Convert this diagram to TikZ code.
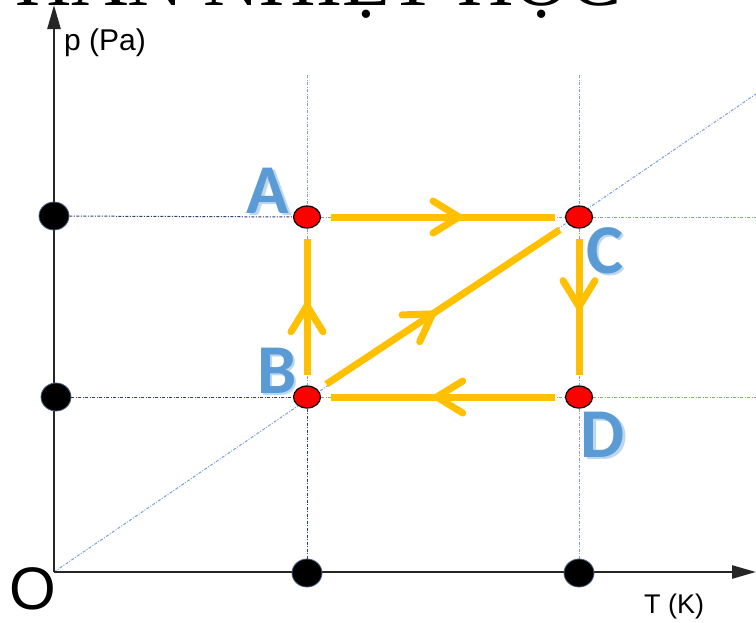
\documentclass[tikz,border=0pt]{standalone}
\usepackage{fontspec}
\setmainfont{Liberation Sans}
\newfontfamily\titlefont{Liberation Serif}
\newfontfamily\ptfont{Carlito}
\usetikzlibrary{arrows.meta,shapes.geometric,decorations.markings,backgrounds}
\definecolor{flowc}{HTML}{FFC000}
\definecolor{ptblue}{HTML}{5B9BD5}
\definecolor{ptshade}{HTML}{BDD7EE}
\definecolor{guide}{HTML}{7F9FD8}
\definecolor{guidedark}{HTML}{2F3F6F}
\newcommand{\ptlabel}[1]{\makebox[0pt][l]{\kern2.5pt\raisebox{-2.5pt}{\color{ptshade}#1}}#1}

\begin{document}
\begin{tikzpicture}[x=1pt,y=-1pt,
  pt/.style={ellipse, draw=black, line width=1.2pt, fill=red, minimum width=27pt, minimum height=22pt, inner sep=0pt},
  tick/.style={ellipse, draw=guide!60!black, line width=0.8pt, fill=black, minimum width=30pt, minimum height=28pt, inner sep=0pt},
  axis/.style={-{Triangle[length=24pt,width=13pt]}, line width=2.5pt, black!85},
  guideline/.style={guide, line width=1pt, dash pattern=on 3pt off 1.5pt on 1pt off 1.5pt},
  guidedk/.style={guideline, guidedark},
  flow/.style={flowc, line width=7pt, shorten <=10pt, shorten >=10pt, postaction={decorate},
    decoration={markings, mark=at position #1 with {\arrow[flowc, line width=7pt]{Straight Barb[length=26pt, width=32pt, round]}}}},
  lab/.style={font=\ptfont\bfseries\fontsize{70}{70}\selectfont, text=ptblue, inner sep=0pt, anchor=base},
  axlab/.style={inner sep=0pt, anchor=base west}]
\useasboundingbox (0,0) rectangle (756,622);

\node[font=\titlefont\fontsize{78}{78}\selectfont, anchor=base east, inner sep=0pt] (title) at (622,5) {PHẦN NHIỆT HỌC};

\coordinate (O) at (54,572);
\coordinate (ytop) at (54,5);
\coordinate (xend) at (756,572);
\coordinate (aT) at (307,75);
\coordinate (cT) at (579,75);
\coordinate (cR) at (756,217);
\coordinate (dR) at (756,397);
\coordinate (diagEnd) at (756,94);

\draw[axis] (O) -- (ytop);
\draw[axis] (O) -- (xend);

\node[tick] (p1) at (54,216) {};
\node[tick] (p2) at (56,397) {};
\node[tick] (t1) at (307,573) {};
\node[tick] (t2) at (579,573) {};

\node[pt] (A) at (307,217) {};
\node[pt] (C) at (579,217) {};
\node[pt] (B) at (307,397) {};
\node[pt] (D) at (579,397) {};

\begin{scope}[on background layer]
\draw[guideline] (O) -- (diagEnd);
\draw[guidedk] (p1) -- (A);
\draw[guidedk] (p2) -- (B);
\draw[guideline] (A) -- (C);
\draw[guideline] (B) -- (D);
\draw[guideline] (C) -- (cR);
\draw[guideline] (D) -- (dR);
\draw[guideline] (aT) -- (A);
\draw[guideline] (A) -- (B);
\draw[guidedk] (B) -- (t1);
\draw[guideline] (cT) -- (C);
\draw[guideline] (C) -- (D);
\draw[guideline] (D) -- (t2);
\end{scope}

\draw[flow=0.58] (A) -- (C);
\draw[flow=0.53] (B) -- (A);
\draw[flow=0.47] (B) -- (C);
\draw[flow=0.54] (D) -- (B);
\draw[flow=0.52] (C) -- (D);

\node[lab] (labA) at (268,213) {\ptlabel{A}};
\node[lab] (labB) at (277,393) {\ptlabel{B}};
\node[lab] (labC) at (605,273) {\ptlabel{C}};
\node[lab] (labD) at (603,457) {\ptlabel{D}};

\node[axlab, font=\fontsize{30}{30}\selectfont] (plab) at (64,50) {p (Pa)};
\node[axlab, font=\fontsize{27}{27}\selectfont] (tlab) at (644,613) {T (K)};
\node[anchor=base, inner sep=0pt, font=\fontsize{60}{60}\selectfont] (olab) at (33,609) {O};
\end{tikzpicture}
\end{document}
